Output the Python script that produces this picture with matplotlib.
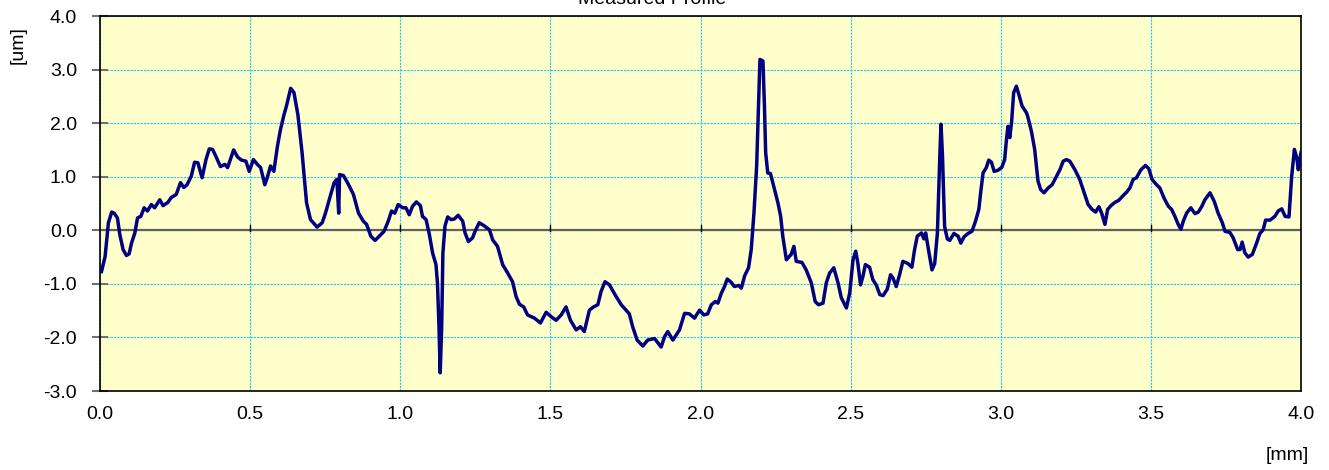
import matplotlib
matplotlib.use("Agg")
import matplotlib.pyplot as plt

# profile, position [mm] / height [um]
pos_mm = [
    0.005, 0.017, 0.028, 0.039, 0.047, 0.058, 0.066, 0.077, 0.088, 0.097,
    0.105, 0.116, 0.125, 0.136, 0.147, 0.158, 0.171, 0.182, 0.199, 0.210,
    0.226, 0.237, 0.254, 0.268, 0.279, 0.290, 0.304, 0.315, 0.326, 0.340,
    0.353, 0.364, 0.375, 0.386, 0.401, 0.416, 0.425, 0.445, 0.458, 0.471,
    0.486, 0.497, 0.511, 0.524, 0.535, 0.549, 0.557, 0.568, 0.579, 0.591,
    0.601, 0.613, 0.621, 0.635, 0.646, 0.659, 0.673, 0.688, 0.701, 0.723,
    0.740, 0.751, 0.767, 0.780, 0.789, 0.795, 0.798, 0.811, 0.828, 0.844,
    0.861, 0.877, 0.888, 0.902, 0.916, 0.930, 0.946, 0.960, 0.971, 0.982,
    0.993, 1.008,
    1.019, 1.030, 1.041, 1.054, 1.067, 1.074, 1.086, 1.097, 1.108, 1.119,
    1.124, 1.129, 1.133, 1.138, 1.142, 1.149, 1.158, 1.169, 1.180, 1.193,
    1.208, 1.216, 1.227, 1.241, 1.249, 1.263, 1.278, 1.297, 1.308, 1.324,
    1.341, 1.358, 1.374, 1.386, 1.397, 1.411, 1.424, 1.447, 1.467, 1.486,
    1.502, 1.519, 1.536, 1.552, 1.567, 1.586, 1.600, 1.613, 1.630, 1.644,
    1.658, 1.669, 1.682, 1.697, 1.713, 1.736, 1.763, 1.774, 1.789, 1.808,
    1.824, 1.847, 1.858, 1.869, 1.880, 1.891, 1.908, 1.930, 1.947, 1.963,
    1.980, 1.997, 2.011,
    2.024, 2.036, 2.049, 2.058, 2.069, 2.080, 2.089, 2.102, 2.113, 2.127,
    2.136, 2.147, 2.160, 2.169, 2.178, 2.187, 2.193, 2.198, 2.208, 2.213,
    2.217, 2.224, 2.233, 2.238, 2.247, 2.258, 2.267, 2.274, 2.286, 2.302,
    2.311, 2.319, 2.338, 2.352, 2.369, 2.382, 2.393, 2.408, 2.419, 2.430,
    2.444, 2.458, 2.469, 2.486, 2.497, 2.508, 2.517, 2.524, 2.533, 2.541,
    2.549, 2.563, 2.574, 2.586, 2.597, 2.608, 2.622, 2.633, 2.641, 2.652,
    2.663, 2.674, 2.691, 2.704, 2.713, 2.722, 2.736, 2.744, 2.750, 2.761,
    2.771, 2.780, 2.789, 2.797, 2.801, 2.806, 2.813, 2.822, 2.830, 2.844,
    2.858, 2.867, 2.878, 2.891, 2.904, 2.916, 2.927, 2.933, 2.941, 2.952,
    2.960, 2.969, 2.978, 2.991,
    3.004, 3.013, 3.019, 3.024, 3.030, 3.036, 3.043, 3.052, 3.060, 3.071,
    3.086, 3.091, 3.102, 3.113, 3.124, 3.133, 3.144, 3.158, 3.171, 3.186,
    3.197, 3.208, 3.219, 3.230, 3.247, 3.263, 3.278, 3.291, 3.304, 3.316,
    3.327, 3.336, 3.347, 3.356, 3.367, 3.380, 3.393, 3.408, 3.419, 3.430,
    3.441, 3.452, 3.467, 3.482, 3.493, 3.504, 3.519, 3.530, 3.544, 3.558,
    3.569, 3.580, 3.591, 3.600, 3.608, 3.619, 3.633, 3.647, 3.658, 3.669,
    3.680, 3.697, 3.711, 3.724, 3.738, 3.747, 3.763, 3.774, 3.789, 3.797,
    3.804, 3.813, 3.824, 3.838, 3.852, 3.863, 3.874, 3.882, 3.897, 3.913,
    3.924, 3.936, 3.947, 3.960, 3.969, 3.978, 3.986, 3.991, 4.000,
]
height_um = [
    -0.77, -0.49, 0.14, 0.34, 0.32, 0.23, -0.08, -0.36, -0.47, -0.44,
    -0.24, -0.05, 0.23, 0.26, 0.42, 0.36, 0.48, 0.42, 0.57, 0.46,
    0.52, 0.61, 0.67, 0.89, 0.80, 0.85, 1.01, 1.27, 1.26, 0.98,
    1.32, 1.52, 1.51, 1.38, 1.19, 1.23, 1.17, 1.50, 1.37, 1.31,
    1.29, 1.10, 1.32, 1.23, 1.17, 0.85, 0.98, 1.20, 1.10, 1.57,
    1.88, 2.16, 2.32, 2.65, 2.57, 2.16, 1.45, 0.51, 0.20, 0.06,
    0.14, 0.32, 0.64, 0.89, 0.95, 0.32, 1.04, 1.02, 0.85, 0.67,
    0.32, 0.17, 0.11, -0.11, -0.19, -0.11, -0.02, 0.17, 0.36, 0.32,
    0.48, 0.42,
    0.42, 0.29, 0.45, 0.53, 0.46, 0.26, 0.20, -0.08, -0.43, -0.64,
    -0.99, -1.80, -2.66, -1.80, -0.43, 0.08, 0.25, 0.20, 0.21, 0.28,
    0.17, -0.05, -0.21, -0.14, -0.02, 0.14, 0.09, 0.01, -0.18, -0.30,
    -0.64, -0.80, -0.96, -1.24, -1.38, -1.43, -1.58, -1.64, -1.73, -1.53,
    -1.61, -1.68, -1.58, -1.43, -1.68, -1.86, -1.80, -1.89, -1.49, -1.43,
    -1.39, -1.14, -0.96, -1.02, -1.18, -1.39, -1.56, -1.80, -2.05, -2.16,
    -2.05, -2.02, -2.10, -2.18, -1.99, -1.89, -2.05, -1.86, -1.55, -1.56,
    -1.64, -1.49, -1.58,
    -1.56, -1.39, -1.33, -1.36, -1.18, -1.05, -0.91, -0.97, -1.05, -1.03,
    -1.08, -0.85, -0.70, -0.36, 0.32, 1.20, 2.32, 3.19, 3.16, 2.32,
    1.45, 1.07, 1.06, 0.95, 0.76, 0.51, 0.26, -0.11, -0.55, -0.45,
    -0.30, -0.58, -0.60, -0.74, -0.98, -1.33, -1.39, -1.36, -0.98, -0.80,
    -0.70, -0.98, -1.26, -1.45, -1.17, -0.55, -0.39, -0.61, -1.02, -0.86,
    -0.64, -0.69, -0.92, -1.03, -1.20, -1.22, -1.10, -0.83, -0.89, -1.05,
    -0.83, -0.58, -0.62, -0.69, -0.36, -0.11, -0.05, -0.16, -0.05, -0.42,
    -0.74, -0.62, -0.05, 1.38, 1.98, 1.38, 0.07, -0.16, -0.19, -0.06,
    -0.11, -0.24, -0.12, -0.06, -0.02, 0.17, 0.39, 0.70, 1.07, 1.17,
    1.31, 1.27, 1.10, 1.12,
    1.18, 1.32, 1.69, 1.94, 1.73, 2.01, 2.57, 2.69, 2.54, 2.32,
    2.19, 2.10, 1.85, 1.51, 0.92, 0.76, 0.70, 0.79, 0.85, 1.01,
    1.13, 1.29, 1.32, 1.29, 1.13, 0.95, 0.70, 0.48, 0.39, 0.34,
    0.44, 0.32, 0.11, 0.39, 0.46, 0.52, 0.56, 0.65, 0.71, 0.79,
    0.95, 0.98, 1.13, 1.21, 1.15, 0.95, 0.85, 0.79, 0.60, 0.45,
    0.39, 0.26, 0.11, 0.02, 0.17, 0.32, 0.42, 0.31, 0.34, 0.44,
    0.57, 0.70, 0.54, 0.32, 0.14, -0.02, -0.04, -0.14, -0.36, -0.36,
    -0.22, -0.42, -0.50, -0.45, -0.24, -0.06, 0.01, 0.19, 0.19, 0.26,
    0.36, 0.40, 0.26, 0.25, 1.01, 1.51, 1.35, 1.13, 1.45,
]
x_ticks = [0.0, 0.5, 1.0, 1.5, 2.0, 2.5, 3.0, 3.5, 4.0]
y_ticks = [-3.0, -2.0, -1.0, 0.0, 1.0, 2.0, 3.0, 4.0]

plt.rcParams['font.family'] = ['Liberation Sans', 'DejaVu Sans']

fig = plt.figure(figsize=(13.29, 4.70), dpi=100)
ax = fig.add_axes([100 / 1329, 1 - 391 / 470, 1201 / 1329, 375 / 470])
ax.set_facecolor('#FFFFCC')

ax.plot(pos_mm, height_um, color='#000080', linewidth=2.5, zorder=3)

ax.set_xlim(0, 4)
ax.set_ylim(-3, 4)
ax.set_xticks(x_ticks)
ax.set_yticks(y_ticks)
ax.set_xticklabels(['%.1f' % v for v in x_ticks])
ax.set_yticklabels(['%.1f' % v for v in y_ticks])

ax.grid(True, color='#22C8E8', linestyle=(0, (2, 1)), linewidth=0.8, zorder=1)
ax.axhline(0, color='#606060', linewidth=1.6, zorder=2)
# small tick marks where the x axis crosses zero
for xv in x_ticks[1:-1]:
    ax.plot([xv, xv], [-0.02, 0.1], color='black', linewidth=1, zorder=2)

ax.tick_params(axis='x', length=0, pad=11, labelsize=14)
ax.tick_params(axis='y', direction='inout', length=11, width=1.5,
               color='#707070', pad=11, labelsize=14)
for s in ax.spines.values():
    s.set_color('black')
    s.set_linewidth(1.2)

fig.text(18 / 1329, 1 - 45 / 470, '[um]', rotation=90, ha='center', va='center', fontsize=14)
fig.text(1309 / 1329, 1 - 456 / 470, '[mm]', ha='right', va='center', fontsize=14)
fig.text(652 / 1329, 1 - 4 / 470, 'Measured Profile', ha='center', va='baseline', fontsize=14)

fig.savefig('out.png', dpi=100, facecolor='white')
